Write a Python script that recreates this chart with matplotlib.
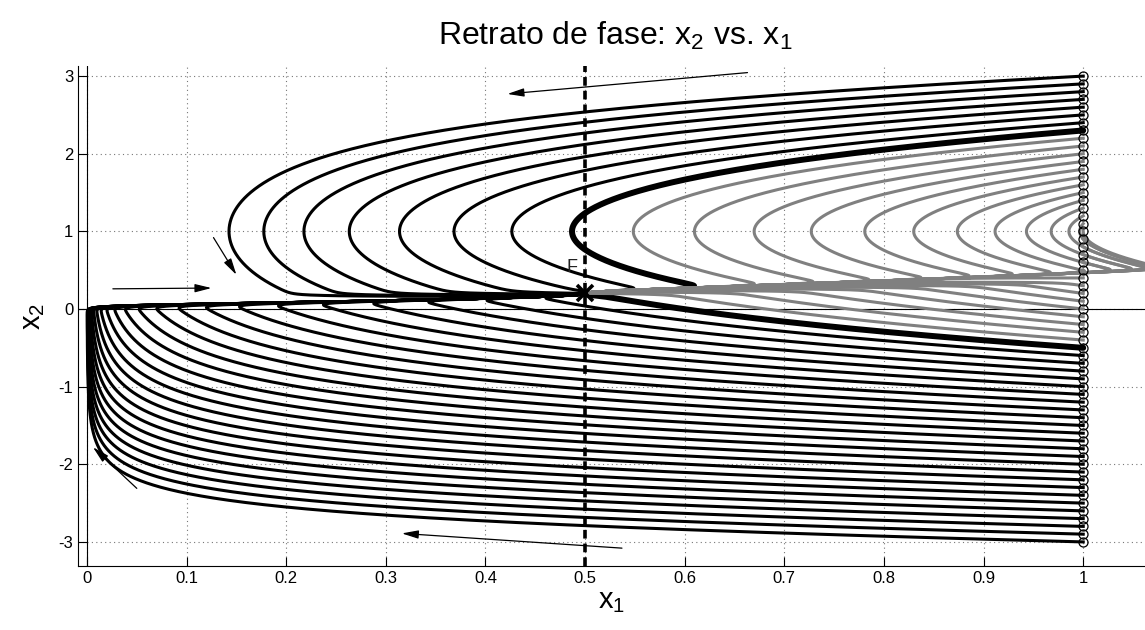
import numpy as np
import matplotlib
matplotlib.use('Agg')
import matplotlib.pyplot as plt

plt.rcParams['font.family'] = ['Liberation Sans', 'DejaVu Sans']
plt.rcParams['mathtext.fontset'] = 'custom'
plt.rcParams['mathtext.rm'] = 'Liberation Sans'
plt.rcParams['mathtext.default'] = 'regular'
plt.rcParams['axes.unicode_minus'] = False

# initial conditions: every trajectory starts at x1 = 1
x1_start = 1.0
x2_start = [-3.0, -2.9, -2.8, -2.7, -2.6, -2.5, -2.4, -2.3, -2.2, -2.1,
            -2.0, -1.9, -1.8, -1.7, -1.6, -1.5, -1.4, -1.3, -1.2, -1.1,
            -1.0, -0.9, -0.8, -0.7, -0.6, -0.5, -0.4, -0.3, -0.2, -0.1,
            0.0, 0.1, 0.2, 0.3, 0.4, 0.5, 0.6, 0.7, 0.8, 0.9,
            1.0, 1.1, 1.2, 1.3, 1.4, 1.5, 1.6, 1.7, 1.8, 1.9,
            2.0, 2.1, 2.2, 2.3, 2.4, 2.5, 2.6, 2.7, 2.8, 2.9, 3.0]
thick_x2 = [-0.5, 2.3]          # separatrices (bold)
gray_range = (-0.4, 2.2)        # trajectories drawn in gray

# fixed point F
F_x1, F_x2 = 0.5, 0.2

# switching curve x2 = h(x1) and model parameters
h_coef = [0.09, 0.12, 0.2]
k_rate, K_cap = 0.48, 2.5
eps, beta = 0.025, 100.0


def h(x1):
    return h_coef[0] + h_coef[1] * x1 + h_coef[2] * x1 ** 2


def rhs(x1, x2):
    s = np.tanh((x2 - h(x1)) / eps)
    dx2 = -s
    dx1 = -k_rate * x1 * (K_cap - x1) * (x2 - 1) * s + beta * (F_x1 - x1) * (1 - s ** 2)
    return dx1, dx2


# integrate all trajectories together (RK4)
dt, n_steps = 0.002, 3200
X1 = np.full(len(x2_start), x1_start)
X2 = np.array(x2_start, dtype=float)
hist1 = [X1.copy()]
hist2 = [X2.copy()]
for _ in range(n_steps):
    a1, a2 = rhs(X1, X2)
    b1, b2 = rhs(X1 + 0.5 * dt * a1, X2 + 0.5 * dt * a2)
    c1, c2 = rhs(X1 + 0.5 * dt * b1, X2 + 0.5 * dt * b2)
    d1, d2 = rhs(X1 + dt * c1, X2 + dt * c2)
    X1 = X1 + dt / 6 * (a1 + 2 * b1 + 2 * c1 + d1)
    X2 = X2 + dt / 6 * (a2 + 2 * b2 + 2 * c2 + d2)
    hist1.append(X1.copy())
    hist2.append(X2.copy())
hist1 = np.array(hist1)
hist2 = np.array(hist2)

fig = plt.figure(figsize=(11.45, 6.3), dpi=100)
ax = fig.add_axes([78 / 1145, 1 - 566 / 630, 1 - 78 / 1145, (566 - 66) / 630])

# axis lines through the origin
ax.axhline(0, color='k', lw=0.8, zorder=1)
ax.axvline(0, color='k', lw=0.8, zorder=1)

black_idx, gray_idx, thick_idx = [], [], []
for i, v in enumerate(x2_start):
    if any(abs(v - t) < 1e-9 for t in thick_x2):
        thick_idx.append(i)
    elif gray_range[0] - 1e-9 <= v <= gray_range[1] + 1e-9:
        gray_idx.append(i)
    else:
        black_idx.append(i)

for i in black_idx:
    ax.plot(hist1[:, i], hist2[:, i], color='k', lw=2.2, zorder=2)

# bold separatrices: stop where the curve meets the switching line
for i in thick_idx:
    sgn = np.sign(np.diff(hist1[:, i]))
    flips = np.where(sgn[1:] * sgn[:-1] < 0)[0]
    stop = flips[1] + 2 if len(flips) > 1 else len(sgn)
    ax.plot(hist1[:stop, i], hist2[:stop, i], color='k', lw=4.3,
            solid_capstyle='round', zorder=3)

for i in gray_idx:
    ax.plot(hist1[:, i], hist2[:, i], color='#808080', lw=2.2, zorder=4)

# start markers
ax.plot([x1_start] * len(x2_start), x2_start, 'o', mfc='none', mec='k',
        ms=6.5, mew=0.9, zorder=5)

# switching line x1 = 0.5
ax.axvline(F_x1, color='k', lw=2.6, dashes=(2.4, 1.4), zorder=6)

# fixed point
ax.plot([F_x1], [F_x2], 'x', color='k', ms=11, mew=2.6, zorder=7)
ax.text(0.487, 0.54, 'F', fontsize=13, color='#222222', ha='center', va='center', zorder=7)

# direction arrows
arrows = [((0.663, 3.045), (0.422, 2.77)),
          ((0.537, -3.08), (0.316, -2.89)),
          ((0.026, 0.26), (0.125, 0.27)),
          ((0.127, 0.92), (0.150, 0.44)),
          ((0.050, -2.31), (0.006, -1.78))]
for tail, head in arrows:
    ax.annotate('', xy=head, xytext=tail,
                arrowprops=dict(arrowstyle='-|>,head_length=1.0,head_width=0.25',
                                color='k', lw=0.9, shrinkA=0, shrinkB=0),
                zorder=8)

ax.set_xlim(-0.009, 1.062)
ax.set_ylim(-3.31, 3.13)
xt = [0, 0.1, 0.2, 0.3, 0.4, 0.5, 0.6, 0.7, 0.8, 0.9, 1]
ax.set_xticks(xt)
ax.set_xticklabels(['0', '0.1', '0.2', '0.3', '0.4', '0.5', '0.6', '0.7', '0.8', '0.9', '1'])
ax.set_yticks([-3, -2, -1, 0, 1, 2, 3])
ax.tick_params(direction='in', length=6.5, width=0.8, labelsize=12, top=False, right=False)
ax.spines['top'].set_visible(False)
ax.spines['right'].set_visible(False)
ax.grid(True, color='#777777', linestyle=(0, (1, 3)), lw=0.8)
ax.set_axisbelow(True)

ax.set_xlabel('x$_1$', fontsize=21, labelpad=1)
ax.set_ylabel('x$_2$', fontsize=21, labelpad=8)
fig.text(0.537, 1 - 36 / 630, 'Retrato de fase: x$_2$ vs. x$_1$', fontsize=23,
         ha='center', va='center')

fig.savefig('out.png', dpi=100)
